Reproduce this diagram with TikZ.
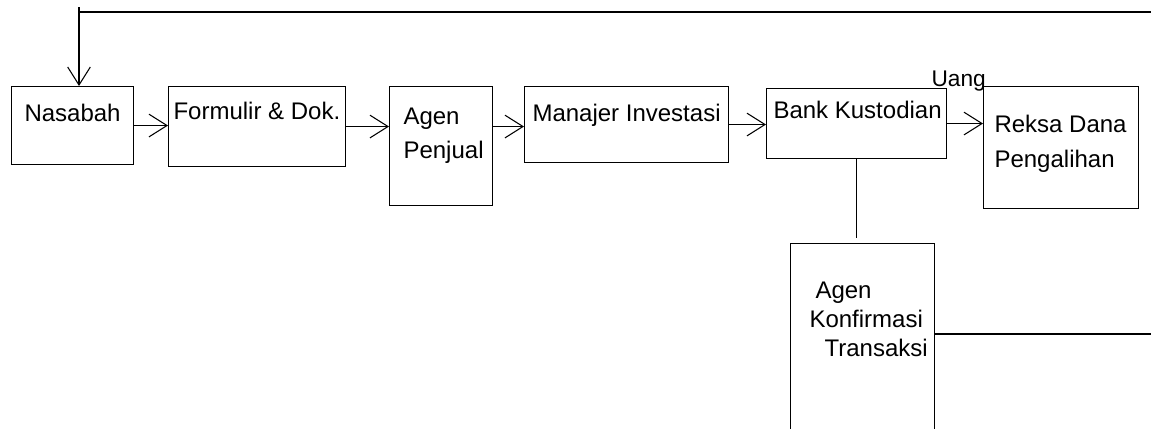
\documentclass[tikz,border=0pt]{standalone}
\usepackage{fontspec}
\setmainfont{Liberation Sans}
\usetikzlibrary{arrows.meta,positioning}
\begin{document}
\begin{tikzpicture}[x=0.75pt,y=-0.75pt,line width=0.8pt,
	box/.style={draw,inner sep=0pt,anchor=north west},
	txt/.style={inner sep=0pt,font=\fontsize{18}{21}\selectfont},
	arr/.style={-{Straight Barb[length=13.5pt,width=17pt]}}]
	\useasboundingbox (0,0) rectangle (1151,428);
	\node[box,minimum width=91.5pt,minimum height=58.5pt] (nasabah) at (11,86) {};
	\node[box,minimum width=132.75pt,minimum height=60pt] (formulir) at (168,86) {};
	\node[box,minimum width=77.25pt,minimum height=89.25pt] (agenp) at (389,86) {};
	\node[box,minimum width=153pt,minimum height=57pt] (manajer) at (524,86) {};
	\node[box,minimum width=135pt,minimum height=52.5pt] (bank) at (766,88) {};
	\node[box,minimum width=116.25pt,minimum height=91.5pt] (reksa) at (983,86) {};
	\node[box,minimum width=108pt,minimum height=150pt] (konf) at (790,243) {};
	\node[txt,anchor=base west] (nasabahT) at (24,121) {Nasabah};
	\node[txt,anchor=base west] (formulirT) at (173,119) {Formulir \& Dok.};
	\node[txt,anchor=north west,align=left,font=\fontsize{18}{25.5}\selectfont] (agenpT) at (403,107) {Agen\\Penjual};
	\node[txt,anchor=base west] (manajerT) at (532,121) {Manajer Investasi};
	\node[txt,anchor=base west] (bankT) at (773,118) {Bank Kustodian};
	\node[txt,anchor=north west,align=left,font=\fontsize{18}{26.25}\selectfont] (reksaT) at (994,115) {Reksa Dana\\Pengalihan};
	\node[txt,anchor=north west,align=left,font=\fontsize{18}{21.75}\selectfont] (konfT) at (809,281) {\hspace*{4.5pt}Agen\\Konfirmasi\\\hspace*{11.25pt}Transaksi};
	\node[txt,anchor=base west,font=\fontsize{17}{20}\selectfont] (uang) at (931,86) {Uang};
	\draw[arr] (nasabah) -- (formulir.west |- nasabah.east);
	\draw[arr] (formulir) -- (agenp.west |- formulir.east);
	\draw[arr] (agenp.east |- formulir.east) -- (manajer.west |- formulir.east);
	\draw[arr] (manajer) -- (bank.west |- manajer.east);
	\draw[arr] (bank) -- (reksa.west |- bank.east);
	\draw (bank.south) -- ([yshift=4pt]konf.north -| bank.south);
	\coordinate (top) at (79,12);
	\draw[arr] (konf.east |- 0,334) -| (1165,12) -| (nasabah.north -| top);
	\draw (top) -- ++(0,-5);
\end{tikzpicture}
\end{document}
